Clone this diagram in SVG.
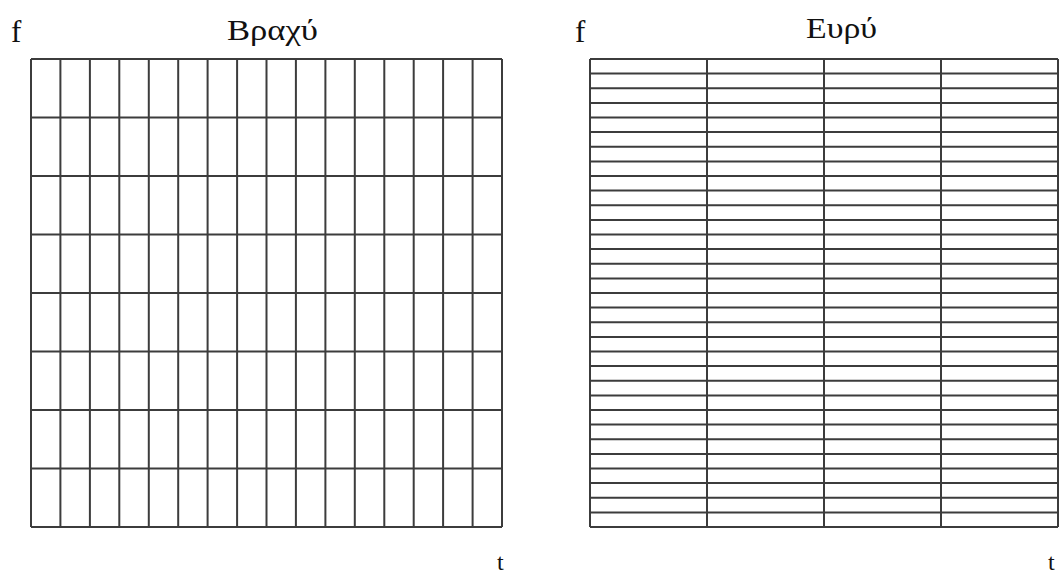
<svg xmlns="http://www.w3.org/2000/svg" width="1060" height="574" viewBox="0 0 1060 574">
<style>
.g{fill:none;stroke:#3c3c3c;stroke-width:2}
.t{font-family:"Liberation Serif","DejaVu Serif",serif;fill:#111}
</style>
<rect width="1060" height="574" fill="#fff"/>
<g id="left-grid">
<path class="g" d="M31,59H502M31,117.5H502M31,176H502M31,234.5H502M31,293H502M31,351.5H502M31,410H502M31,468.5H502M31,527H502"/>
<path class="g" d="M31,59V527M60.4,59V527M89.9,59V527M119.3,59V527M148.8,59V527M178.2,59V527M207.6,59V527M237.1,59V527M266.5,59V527M295.9,59V527M325.4,59V527M354.8,59V527M384.3,59V527M413.7,59V527M443.1,59V527M472.6,59V527M502,59V527"/>
</g>
<g id="right-grid">
<path class="g" d="M590,59V527M707,59V527M824,59V527M941,59V527M1058,59V527"/>
<path class="g" d="M590,59H1058M590,73.6H1058M590,88.3H1058M590,102.9H1058M590,117.5H1058M590,132.1H1058M590,146.8H1058M590,161.4H1058M590,176H1058M590,190.6H1058M590,205.3H1058M590,219.9H1058M590,234.5H1058M590,249.1H1058M590,263.8H1058M590,278.4H1058M590,293H1058M590,307.6H1058M590,322.3H1058M590,336.9H1058M590,351.5H1058M590,366.1H1058M590,380.8H1058M590,395.4H1058M590,410H1058M590,424.6H1058M590,439.3H1058M590,453.9H1058M590,468.5H1058M590,483.1H1058M590,497.8H1058M590,512.4H1058M590,527H1058"/>
</g>
<g id="labels">
<text class="t" x="11" y="42" font-size="31">f</text>
<text class="t" x="575" y="42" font-size="31">f</text>
<text class="t" x="227" y="40" font-size="30" textLength="91" lengthAdjust="spacingAndGlyphs">Βραχύ</text>
<text class="t" x="806" y="38" font-size="30" textLength="71" lengthAdjust="spacingAndGlyphs">Ευρύ</text>
<text class="t" x="497" y="570" font-size="24">t</text>
<text class="t" x="1048" y="570" font-size="24">t</text>
</g>
</svg>
